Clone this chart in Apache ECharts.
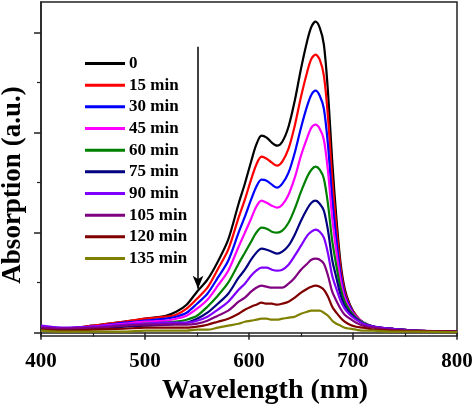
<!DOCTYPE html>
<html><head><meta charset="utf-8">
<script src="https://cdn.jsdelivr.net/npm/echarts@6/dist/echarts.min.js"></script>
<style>html,body{margin:0;padding:0;background:#fff}#c{width:474px;height:405px}</style>
</head><body><div id="c"></div>
<script>
// Wavelength grid (nm)
var wavelengths = [400,420,450,480,500,520,530,540,550,560,570, 580,590,596,602,607,612,617,622,627,632,638,644,650,656,660,664,668,672,676,680, 684,688,692,697,703,710,720,735,760,800];
var seriesNames = ['0','15 min','30 min','45 min','60 min','75 min','90 min','105 min','120 min','135 min'];
var seriesColors = ['#000000','#ff0000','#0000ff','#ff00ff','#008000','#000080','#8000ff','#800080','#800000','#808000'];
var abs0   = [0.06,0.04,0.07,0.11,0.14,0.17,0.21,0.28,0.41,0.53,0.71, 0.93,1.29,1.49,1.71,1.88,1.97,1.95,1.90,1.87,1.91,2.06,2.32,2.64,2.92,3.06,3.11,3.05,2.88,2.40,1.72, 1.15,0.70,0.44,0.28,0.17,0.10,0.06,0.04,0.02,0.01];
var abs15  = [0.05,0.04,0.07,0.11,0.14,0.16,0.18,0.24,0.34,0.45,0.635, 0.83,1.15,1.33,1.53,1.68,1.76,1.74,1.70,1.67,1.71,1.84,2.07,2.36,2.61,2.74,2.78,2.73,2.57,2.15,1.54, 1.05,0.65,0.41,0.27,0.17,0.10,0.06,0.04,0.02,0.01];
var abs30  = [0.05,0.04,0.06,0.10,0.12,0.14,0.16,0.20,0.29,0.39,0.55, 0.72,1.00,1.16,1.33,1.46,1.53,1.52,1.48,1.45,1.49,1.60,1.80,2.05,2.27,2.38,2.42,2.37,2.24,1.87,1.34, 0.93,0.59,0.38,0.26,0.16,0.10,0.06,0.04,0.02,0.01];
var abs45  = [0.05,0.04,0.06,0.09,0.11,0.12,0.14,0.17,0.24,0.33,0.47, 0.62,0.86,1.00,1.14,1.26,1.32,1.30,1.27,1.25,1.28,1.38,1.55,1.77,1.95,2.05,2.08,2.04,1.93,1.61,1.15, 0.81,0.53,0.35,0.24,0.16,0.10,0.06,0.04,0.02,0.01];
var abs60  = [0.04,0.03,0.05,0.07,0.09,0.10,0.11,0.13,0.17,0.26,0.37, 0.50,0.69,0.80,0.91,1.00,1.05,1.04,1.01,1.00,1.02,1.10,1.24,1.41,1.56,1.63,1.66,1.63,1.54,1.28,0.92, 0.67,0.45,0.31,0.22,0.15,0.10,0.06,0.04,0.02,0.01];
var abs75  = [0.04,0.03,0.04,0.06,0.07,0.08,0.09,0.10,0.14,0.20,0.29, 0.39,0.55,0.63,0.73,0.80,0.84,0.83,0.81,0.79,0.81,0.87,0.98,1.12,1.24,1.30,1.32,1.29,1.22,1.02,0.73, 0.55,0.38,0.27,0.20,0.14,0.09,0.06,0.04,0.02,0.01];
var abs90  = [0.07,0.05,0.06,0.08,0.09,0.10,0.10,0.10,0.12,0.16,0.23, 0.31,0.43,0.49,0.57,0.62,0.65,0.65,0.63,0.62,0.63,0.68,0.77,0.87,0.97,1.01,1.03,1.01,0.95,0.79,0.57, 0.44,0.32,0.24,0.18,0.13,0.09,0.06,0.04,0.02,0.01];
var abs105 = [0.05,0.04,0.05,0.07,0.08,0.08,0.08,0.08,0.09,0.12,0.17, 0.22,0.31,0.35,0.41,0.45,0.47,0.46,0.45,0.45,0.45,0.49,0.55,0.63,0.69,0.73,0.74,0.73,0.69,0.57,0.41, 0.32,0.24,0.18,0.14,0.10,0.07,0.05,0.03,0.02,0.01];
var abs120 = [0.03,0.02,0.03,0.04,0.05,0.05,0.05,0.05,0.06,0.08,0.11, 0.14,0.19,0.23,0.26,0.28,0.30,0.29,0.29,0.28,0.29,0.31,0.35,0.40,0.44,0.46,0.47,0.46,0.43,0.36,0.26, 0.20,0.15,0.11,0.08,0.06,0.05,0.03,0.02,0.015,0.01];
var abs135 = [0.02,0.01,0.01,0.01,0.02,0.02,0.02,0.02,0.03,0.03,0.05, 0.07,0.09,0.11,0.12,0.13,0.14,0.14,0.13,0.13,0.14,0.15,0.16,0.19,0.21,0.22,0.22,0.22,0.20,0.17,0.12, 0.09,0.07,0.05,0.04,0.03,0.02,0.02,0.01,0.01,0.005];
var allAbs = [abs0,abs15,abs30,abs45,abs60,abs75,abs90,abs105,abs120,abs135];
var xTickMin = 400, xTickMax = 800, xTickStep = 100;
var yMajorTicks = [0,1,2,3];
var yMinorTicks = [0.5,1.5,2.5];
var arrowStart = [551, 2.86], arrowEnd = [551, 0.44];

var font = "'Liberation Serif','Times New Roman',serif";
var axisColor = '#222';
var series = allAbs.map(function(arr, i){
  var s = {
    name: seriesNames[i], type:'line', smooth:0.3, showSymbol:false, symbol:'none',
    lineStyle:{width:2.2, color:seriesColors[i]}, itemStyle:{color:seriesColors[i]},
    data: wavelengths.map(function(w,j){return [w, arr[j]];}), z: 2 + i, silent:true
  };
  if (i === 0) {
    s.markLine = {
      silent:true, symbol:['none','arrow'], symbolSize:[8,13], label:{show:false},
      lineStyle:{color:'#000', width:1.5, type:'solid'},
      data:[[{coord:arrowStart},{coord:arrowEnd}]]
    };
  }
  return s;
});

var chart = echarts.init(document.getElementById('c'), null, {renderer:'canvas'});
chart.setOption({
  animation:false,
  backgroundColor:'#fff',
  grid:{left:41, right:17, top:2, bottom:69, outerBoundsMode:'none', containLabel:false, show:true, borderColor:axisColor, borderWidth:1.5},
  legend:{
    orient:'vertical', left:85, top:55, padding:0, icon:'rect', itemWidth:40, itemHeight:3, itemGap:4.67,
    data: seriesNames,
    textStyle:{fontFamily:font, fontWeight:'bold', fontSize:17, lineHeight:17, color:'#000', padding:[0,0,0,-1]}
  },
  xAxis:{
    type:'value', min:xTickMin, max:xTickMax, interval:xTickStep,
    axisLine:{show:true, lineStyle:{color:axisColor, width:1.5}},
    axisTick:{show:true, length:7, lineStyle:{color:axisColor, width:1.5}},
    minorTick:{show:true, splitNumber:2, length:4, lineStyle:{color:axisColor, width:1.2}},
    splitLine:{show:false}, minorSplitLine:{show:false},
    axisLabel:{margin:15, fontFamily:font, fontWeight:'bold', fontSize:21, color:'#000'},
    name:'Wavelength (nm)', nameLocation:'middle', nameGap:39,
    nameTextStyle:{fontFamily:font, fontWeight:'bold', fontSize:28, color:'#000', padding:[0,0,0,32]}
  },
  yAxis:[{
    type:'value', min:-0.033, max:3.307, position:'left',
    axisLine:{show:true, lineStyle:{color:axisColor, width:1.5}},
    axisTick:{show:true, length:7, customValues:yMajorTicks, lineStyle:{color:axisColor, width:1.5}},
    axisLabel:{show:false}, splitLine:{show:false},
    name:'Absorption (a.u.)', nameLocation:'middle', nameGap:14,
    nameTextStyle:{fontFamily:font, fontWeight:'bold', fontSize:27, color:'#000', padding:[0,32,0,0]}
  },{
    type:'value', min:-0.033, max:3.307, position:'left',
    axisLine:{show:false},
    axisTick:{show:true, length:4, customValues:yMinorTicks, lineStyle:{color:axisColor, width:1.2}},
    axisLabel:{show:false}, splitLine:{show:false}
  }],
  series: series
});
</script></body></html>
